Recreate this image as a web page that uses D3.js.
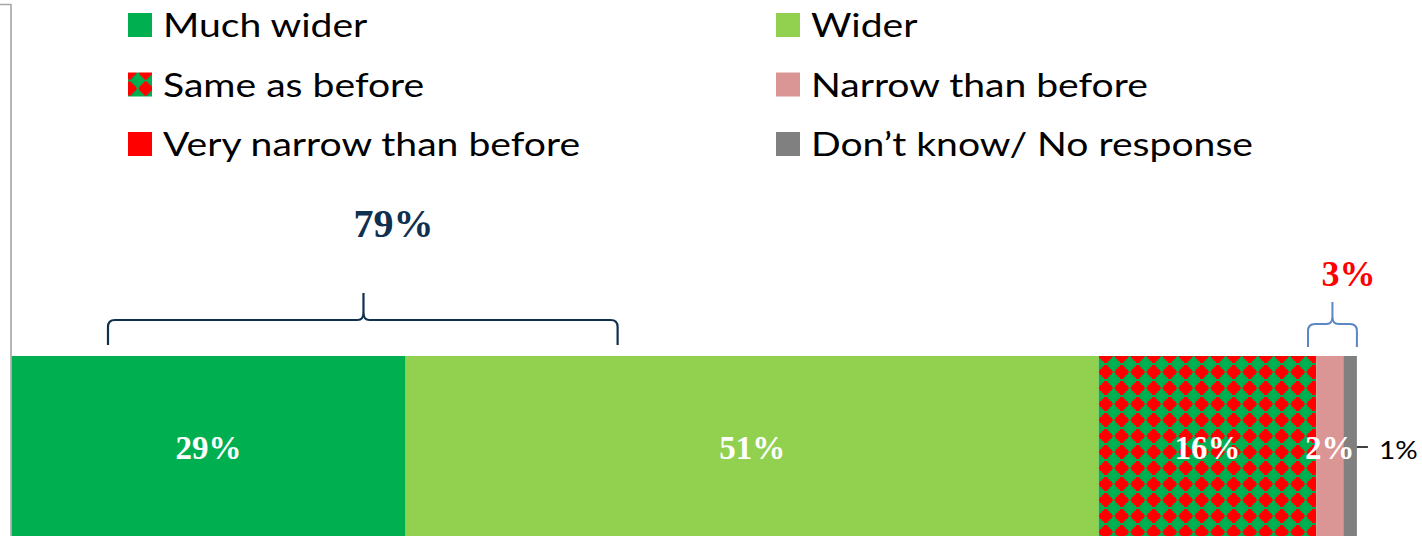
<!DOCTYPE html>
<html><head><meta charset="utf-8">
<script src="https://cdn.jsdelivr.net/npm/d3@7"></script>
<style>html,body{margin:0;padding:0;background:#fff;overflow:hidden}</style>
</head><body>
<svg id="chart" width="1422" height="536"></svg>
<script>
// ---- data ----
const categories = ["Much wider", "Wider", "Same as before", "Narrow than before", "Very narrow than before", "Don\u2019t know/ No response"];
const values = [29, 51, 16, 2, 0, 1];
const valueLabels = ["29%", "51%", "16%", "2%", "", "1%"];
const colors = ["#00b050", "#92d050", "url(#diamonds)", "#da9694", "#ff0000", "#808080"];
const groupTotals = [{label: "79%", from: 7.1, to: 44.6, peak: 25.9, color: "#10304f", textColor: "#10304f"},
                     {label: "3%", from: 95.4, to: 99.0, peak: 97.2, color: "#5b87c5", textColor: "#ff0000"}];

const svg = d3.select("#chart");
const x = d3.scaleLinear().domain([0, 100]).range([11.5, 1370.5]);
const barTop = 356, barH = 186;

// pattern: red diamonds on green
const defs = svg.append("defs");
const pat = defs.append("pattern").attr("id", "diamonds").attr("patternUnits", "userSpaceOnUse")
  .attr("width", 16).attr("height", 16).attr("x", x(80) - 1).attr("y", barTop - 8);
pat.append("rect").attr("width", 16).attr("height", 16).attr("fill", "#00b050");
pat.append("path").attr("fill", "#ff0000")
  .attr("d", "M6,1H10V3H12V5H14V7H15V9H14V11H12V13H10V15H6V13H4V11H2V9H1V7H2V5H4V3H6Z");

// stacked segments
let acc = 0;
const segs = values.map((v, i) => { const s = {i, v, x0: acc, x1: acc + v}; acc += v; return s; });

svg.append("g").selectAll("rect").data(segs.filter(d => d.v > 0)).join("rect")
  .attr("x", d => x(d.x0)).attr("width", d => x(d.x1) - x(d.x0))
  .attr("y", barTop).attr("height", barH)
  .attr("fill", d => colors[d.i]);

// axis line
svg.append("path").attr("d", `M0,4.5H${x(0) - 0.5}V536`).attr("fill", "none")
  .attr("stroke", "#a6a6a6").attr("stroke-width", 1.6);

// inside labels
const labY = 459;
svg.append("g").selectAll("text").data(segs.filter(d => d.v >= 2)).join("text")
  .attr("x", d => x((d.x0 + d.x1) / 2)).attr("y", labY)
  .attr("text-anchor", "middle").attr("fill", "#fff")
  .style("font-family", "'Liberation Serif', serif").style("font-weight", "bold").style("font-size", "33px")
  .text(d => valueLabels[d.i]);

// outside label for small segment
segs.filter(d => d.v > 0 && d.v < 2).forEach(d => {
  const xe = x(d.x1);
  svg.append("line").attr("x1", xe).attr("x2", xe + 11).attr("y1", 447).attr("y2", 447)
    .attr("stroke", "#000").attr("stroke-width", 1.5);
  svg.append("text").attr("transform", `translate(${xe + 22},${labY}) scale(1.12,1)`)
    .style("font-family", "Lato, sans-serif").style("font-size", "25px").attr("fill", "#000")
    .text(valueLabels[d.i]);
});

// braces
function brace(x0, x1, xm, yb, yh, yt) {
  const r = 7;
  return `M${x0},${yb} V${yh + r} Q${x0},${yh} ${x0 + r},${yh} H${xm - 6} C${xm - 1},${yh} ${xm},${yh - 3} ${xm},${yh - 8} V${yt}` +
         ` M${xm},${yh - 8} C${xm},${yh - 3} ${xm + 1},${yh} ${xm + 6},${yh} H${x1 - r} Q${x1},${yh} ${x1},${yh + r} V${yb}`;
}
const bg = groupTotals;
svg.append("path").attr("d", brace(x(bg[0].from), x(bg[0].to), x(bg[0].peak), 345, 320, 293))
  .attr("fill", "none").attr("stroke", bg[0].color).attr("stroke-width", 2.2);
svg.append("text").attr("x", x(bg[0].peak) + 30).attr("y", 237).attr("text-anchor", "middle")
  .attr("fill", bg[0].textColor).style("font-family", "'Liberation Serif', serif")
  .style("font-weight", "bold").style("font-size", "40px").text(bg[0].label);
svg.append("path").attr("d", brace(x(bg[1].from), x(bg[1].to), x(bg[1].peak), 347, 324, 302))
  .attr("fill", "none").attr("stroke", bg[1].color).attr("stroke-width", 2);
svg.append("text").attr("x", x(bg[1].peak) + 16).attr("y", 286).attr("text-anchor", "middle")
  .attr("fill", bg[1].textColor).style("font-family", "'Liberation Serif', serif")
  .style("font-weight", "bold").style("font-size", "36px").text(bg[1].label);

// legend
const legX = [128, 776], legY = [25, 84.5, 144];
const leg = svg.append("g").selectAll("g").data(categories).join("g")
  .attr("transform", (d, i) => `translate(${legX[i % 2]},${legY[Math.floor(i / 2)]})`);
leg.append("rect").attr("x", 0).attr("y", -12).attr("width", 24).attr("height", 24)
  .attr("fill", (d, i) => colors[i]);
leg.append("text").attr("transform", "translate(35,12) scale(1.185,1)")
  .style("font-family", "Lato, sans-serif").style("font-size", "33px").attr("fill", "#000")
  .text(d => d);
</script>
</body></html>
